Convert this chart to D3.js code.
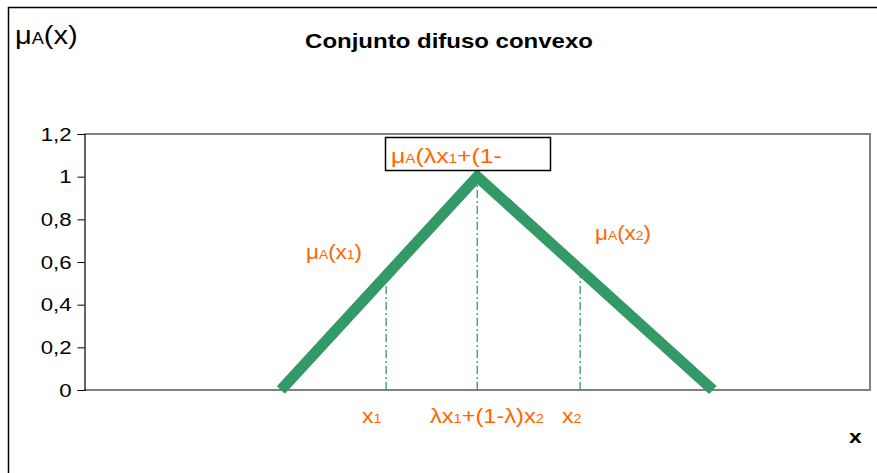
<!DOCTYPE html>
<html>
<head>
<meta charset="utf-8">
<script src="https://cdn.jsdelivr.net/npm/d3@7"></script>
<style>
body { margin: 0; background: #fff; }
text { font-family: "Liberation Sans", Arial, sans-serif; }
</style>
</head>
<body>
<svg id="chart" width="877" height="473"></svg>
<script>
// data
const xVals = [25, 50, 80]
const muVals = [0, 1, 0]
const yTicks = [0, 0.2, 0.4, 0.6, 0.8, 1, 1.2]
const guideX = [38.4, 50, 63.1]   // x1, lambda point, x2
const guideMu = [0.535, 1, 0.565]

const width = 877
const height = 473
const green = "#339966"
const orange = "#ff6600"

const svg = d3.select("#chart")
const plot = {left: 84.5, right: 870, top: 134, bottom: 390}

const xScale = d3.scaleLinear().domain([0, 100]).range([plot.left, plot.right])
const yScale = d3.scaleLinear().domain([0, 1.2]).range([plot.bottom, plot.top])

// outer frame (only top and left show)
svg.append("path")
	.attr("d", `M8.5,${height} V7.5 H${width}`)
	.attr("fill", "none").attr("stroke", "#000").attr("stroke-width", 1.5)

// plot frame
svg.append("path")
	.attr("d", `M${plot.left},${plot.top} H${plot.right} V${plot.bottom} H${plot.left}`)
	.attr("fill", "none").attr("stroke", "#808080").attr("stroke-width", 2)

const yAxis = d3.axisLeft(yScale).tickValues(yTicks).tickSize(7).tickPadding(8)
	.tickFormat(d => d3.format(",")(d).replace(".", ","))
const yAxisG = svg.append("g")
	.attr("transform", `translate(${plot.left},0)`)
	.call(yAxis)
yAxisG.select(".domain").attr("stroke", "#000").attr("stroke-width", 1.2)
yAxisG.selectAll(".tick line").attr("stroke", "#000")
yAxisG.selectAll(".tick text")
	.attr("font-size", 19).attr("fill", "#000")
	.attr("font-family", "Liberation Sans, Arial, sans-serif")
	.attr("transform", "scale(1.17,1)")
	.attr("x", -13 / 1.17)

// guide lines (dash dot)
svg.selectAll(".guide")
	.data(guideX).enter().append("line")
	.attr("class", "guide")
	.attr("x1", d => xScale(d)).attr("x2", d => xScale(d))
	.attr("y1", yScale(0))
	.attr("y2", (d, i) => yScale(guideMu[i]))
	.attr("stroke", green).attr("stroke-width", 1.3)
	.attr("stroke-dasharray", "8,3,2,3")

// the triangle
const pts = xVals.map((x, i) => [x, muVals[i]])
svg.append("path")
	.datum(pts)
	.attr("d", d3.line().x(d => xScale(d[0])).y(d => yScale(d[1])))
	.attr("fill", "none")
	.attr("stroke", green).attr("stroke-width", 11)
	.attr("stroke-linejoin", "miter")

// text helper: parts = [[string, small?], ...]
function label(x, y, parts, size, color, opts = {}) {
	const t = svg.append("text")
		.attr("transform", `translate(${x},${y}) scale(${opts.sx || 1},1)`)
		.attr("font-size", size)
		.attr("fill", color)
		.attr("font-weight", opts.bold ? "bold" : "normal")
		.attr("text-anchor", opts.anchor || "start")
	parts.forEach(p => {
		t.append("tspan")
			.attr("font-size", p[1] ? size * 0.62 : size)
			.text(p[0])
	})
	return t
}

// box at the peak
svg.append("rect")
	.attr("x", 385.5).attr("y", 137.5).attr("width", 165).attr("height", 33)
	.attr("fill", "#fff").attr("stroke", "#000").attr("stroke-width", 1.5)

label(391, 163, [["μ"], ["A", 1], ["(λx"], ["1", 1], ["+(1-"]], 21, orange, {sx: 1.18})

label(15, 44, [["μ"], ["A", 1], ["(x)"]], 26, "#000", {sx: 1.12})
label(449, 48, [["Conjunto difuso convexo"]], 20, "#000", {bold: true, anchor: "middle", sx: 1.2})
label(849, 443, [["x"]], 19, "#000", {bold: true, sx: 1.2})

label(306, 259, [["μ"], ["A", 1], ["(x"], ["1", 1], [")"]], 20, orange, {sx: 1.12})
label(595, 240, [["μ"], ["A", 1], ["(x"], ["2", 1], [")"]], 20, orange, {sx: 1.12})

label(362, 423, [["x"], ["1", 1]], 20, orange, {sx: 1.15})
label(430, 423, [["λx"], ["1", 1], ["+(1-λ)x"], ["2", 1]], 20, orange, {sx: 1.18})
label(562, 423, [["x"], ["2", 1]], 20, orange, {sx: 1.15})
</script>
</body>
</html>
